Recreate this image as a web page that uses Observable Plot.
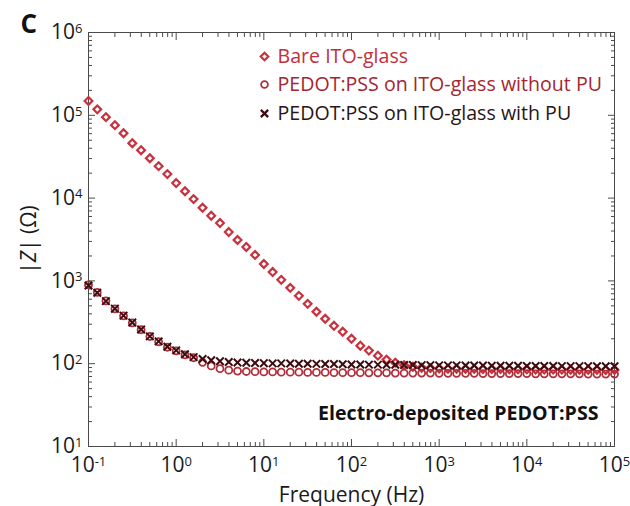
<!DOCTYPE html>
<html><head><meta charset="utf-8">
<script src="https://cdn.jsdelivr.net/npm/d3@7"></script>
<script src="https://cdn.jsdelivr.net/npm/@observablehq/plot@0.6"></script>
<style>
body{margin:0;background:#fff;}
#chart{width:630px;height:506px;}
</style>
</head><body><div id="chart"></div>
<script>
// Frequency (Hz)
const freq = [0.1, 0.126, 0.158, 0.2, 0.251, 0.316, 0.398, 0.501, 0.631, 0.794,
  1, 1.26, 1.58, 2, 2.51, 3.16, 3.98, 5.01, 6.31, 7.94,
  10, 12.6, 15.8, 20, 25.1, 31.6, 39.8, 50.1, 63.1, 79.4,
  100, 126, 158, 200, 251, 316, 398, 501, 631, 794,
  1000, 1260, 1580, 2000, 2510, 3160, 3980, 5010, 6310, 7940,
  10000, 12600, 15800, 20000, 25100, 31600, 39800, 50100, 63100, 79400,
  100000];
// |Z| (Ohm)
const bareITO = [149000, 118000, 95000, 76000, 60700, 46000, 37900, 30300, 24300, 19500,
  15200, 12100, 9730, 7640, 6120, 5000, 3890, 3120, 2570, 2060,
  1600, 1280, 1030, 824, 660, 528, 424, 349, 287, 243,
  200, 165, 144, 125, 112, 103, 96, 92, 89.5, 88.5,
  87.5, 87, 87, 86.5, 86.5, 86, 86, 86, 85.5, 85.5,
  85.5, 85, 85, 85, 85, 84.5, 84.5, 84.5, 84.5, 84, 84];
const withoutPU = [895, 726, 574, 460, 379, 312, 257, 213, 184, 158,
  143, 128, 118, 104, 94, 87, 83.5, 81.5, 80.5, 80,
  79.5, 79.5, 79, 79, 79, 78.5, 78.5, 78.5, 78, 78,
  78, 78, 77.5, 77.5, 77.5, 77, 77, 77, 77, 77,
  76.5, 76.5, 76.5, 76.5, 76.5, 76, 76, 76, 76, 76,
  76, 75.5, 75.5, 75.5, 75.5, 75.5, 75.5, 75, 75, 75, 75];
const withPU = [880, 720, 570, 462, 381, 314, 259, 214, 186, 160,
  145, 130, 120, 114, 110, 107, 105, 103.5, 102.5, 102,
  101.5, 101, 101, 100.5, 100, 100, 99.5, 99, 99, 98.5,
  98, 98, 97.5, 97.5, 97, 97, 96.5, 96.5, 96, 96,
  95.5, 95.5, 95.5, 95, 95, 95, 94.5, 94.5, 94.5, 94.5,
  94, 94, 94, 94, 93.5, 93.5, 93.5, 93.5, 93, 93, 93];

const seriesNames = ["Bare ITO-glass", "PEDOT:PSS on ITO-glass without PU", "PEDOT:PSS on ITO-glass with PU"];
const symbols = ["diamond2", "circle", "times"];
const markColors = ["#c8323f", "#b02f3a", "#3d0c10"];
const textColors = ["#c2303c", "#a5262f", "#2a1416"];

const majorX = [0.1, 1, 10, 100, 1000, 10000, 100000];
const majorY = [10, 100, 1000, 10000, 100000, 1000000];
const minorMult = [2, 3, 4, 5, 6, 7, 8, 9];
const minorX = majorX.slice(0, -1).flatMap(d => minorMult.map(m => d * m));
const minorY = majorY.slice(0, -1).flatMap(d => minorMult.map(m => d * m));

const seriesValues = [bareITO, withoutPU, withPU];
const rows = seriesValues.map((vals, s) => freq.map((f, i) => ({f, z: vals[i], s})));

const fmt = d => "10^" + Math.round(Math.log10(d));
const frameColor = "#4a4a4a";

const tickAxes = [];
for (const anchor of ["bottom", "top"]) {
  tickAxes.push(Plot.axisX(majorX, {anchor, tickSize: -7, fill: "none", label: null, stroke: frameColor}));
  tickAxes.push(Plot.axisX(minorX, {anchor, tickSize: -4, fill: "none", label: null, stroke: frameColor}));
}
for (const anchor of ["left", "right"]) {
  tickAxes.push(Plot.axisY(majorY, {anchor, tickSize: -7, fill: "none", label: null, stroke: frameColor}));
  tickAxes.push(Plot.axisY(minorY, {anchor, tickSize: -4, fill: "none", label: null, stroke: frameColor}));
}

const legendDy = [24, 52, 81];
const legendMarks = seriesNames.flatMap((name, i) => [
  Plot.dot([name], {frameAnchor: "top-left", dx: 176, dy: legendDy[i], symbol: symbols[i], r: 3.4,
    stroke: markColors[i], strokeWidth: i === 1 ? 1.8 : 2.2, fill: "none"}),
  Plot.text([name], {frameAnchor: "top-left", dx: 189, dy: legendDy[i], text: d => d, textAnchor: "start",
    lineAnchor: "middle", fill: textColors[i], fontSize: 19.6})
]);

const chart = Plot.plot({
  width: 630, height: 506,
  marginLeft: 88, marginRight: 16, marginTop: 32, marginBottom: 60,
  style: {fontFamily: "'Open Sans', sans-serif", fontSize: "20px", color: "#1a1a1a", background: "#fff"},
  x: {type: "log", domain: [0.1, 1e5]},
  y: {type: "log", domain: [10, 1e6]},
  marks: [
    Plot.frame({stroke: frameColor}),
    ...tickAxes,
    Plot.axisX(majorX, {anchor: "bottom", tickSize: 0, tickPadding: 11, tickFormat: fmt, fontSize: 21,
      label: "Frequency (Hz)", labelAnchor: "center", labelOffset: 55, labelArrow: "none"}),
    Plot.axisY(majorY, {anchor: "left", tickSize: 0, tickPadding: 6, tickFormat: fmt, fontSize: 21,
      label: "|Z| (Ω)", labelAnchor: "center", labelOffset: 67, labelArrow: "none"}),
    Plot.dot(rows[0], {x: "f", y: "z", symbol: symbols[0], r: 3.5, stroke: markColors[0], strokeWidth: 2.2, fill: "none", clip: false}),
    Plot.dot(rows[1], {x: "f", y: "z", symbol: symbols[1], r: 3.5, stroke: markColors[1], strokeWidth: 1.8, fill: "none", clip: false}),
    Plot.dot(rows[2], {x: "f", y: "z", symbol: symbols[2], r: 3.5, stroke: markColors[2], strokeWidth: 2, fill: "none", clip: false}),
    ...legendMarks,
    Plot.text(["Electro-deposited PEDOT:PSS"], {frameAnchor: "bottom-right", dx: -16, dy: -33, text: d => d,
      textAnchor: "end", lineAnchor: "middle", fontWeight: "bold", fontSize: 19.6, fill: "#111"}),
    Plot.text(["C"], {frameAnchor: "top-left", dx: -68, dy: -8, text: d => d, lineAnchor: "middle",
      fontWeight: "bold", fontSize: 26, fill: "#111"})
  ]
});

// superscript exponents in tick labels
const NS = "http://www.w3.org/2000/svg";
chart.querySelectorAll('g[aria-label$="tick label"] text').forEach(t => {
  const m = /^10\^(-?\d+)$/.exec(t.textContent);
  if (!m) return;
  t.textContent = "";
  const base = document.createElementNS(NS, "tspan");
  base.textContent = "10";
  const sup = document.createElementNS(NS, "tspan");
  sup.setAttribute("dy", "-0.5em");
  sup.setAttribute("font-size", "13");
  sup.textContent = m[1];
  t.appendChild(base); t.appendChild(sup);
});
// italic Z in y label
chart.querySelectorAll('g[aria-label="y-axis label"] text').forEach(t => {
  t.textContent = "";
  const a = document.createElementNS(NS, "tspan"); a.textContent = "|";
  const z = document.createElementNS(NS, "tspan"); z.textContent = "Z"; z.setAttribute("font-style", "italic");
  const b = document.createElementNS(NS, "tspan"); b.textContent = "| (Ω)";
  t.appendChild(a); t.appendChild(z); t.appendChild(b);
});

document.getElementById("chart").appendChild(chart);
</script>
</body></html>
